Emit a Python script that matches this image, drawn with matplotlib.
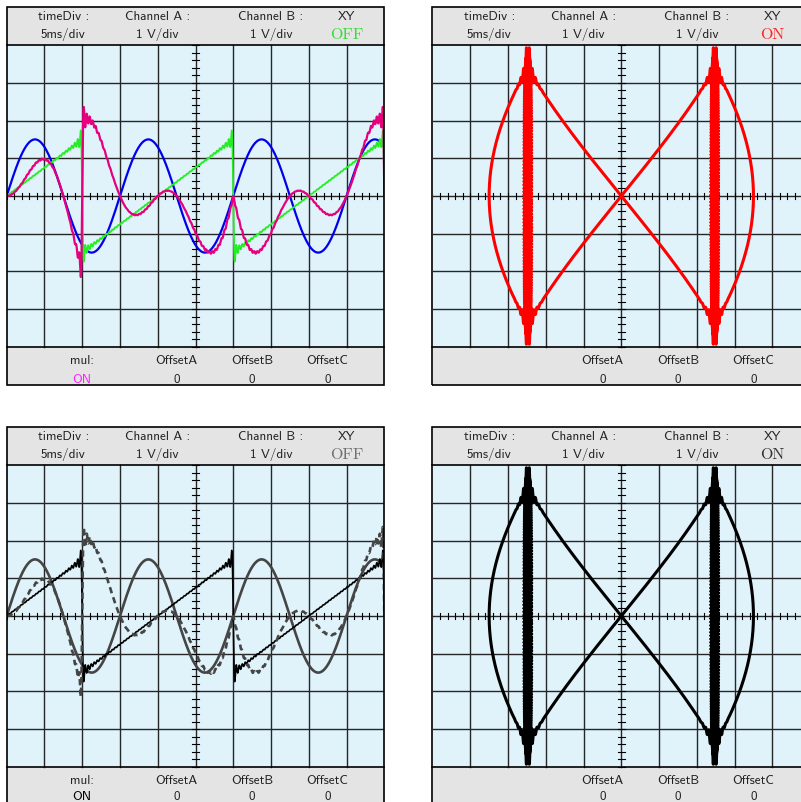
import numpy as np
import matplotlib
matplotlib.use("Agg")
import matplotlib.pyplot as plt
from matplotlib.patches import Rectangle

# ---- screen captions -------------------------------------------------------
header_titles = ["timeDiv :", "Channel A :", "Channel B :", "XY"]
header_values = ["5ms/div", "1 V/div", "1 V/div"]
header_x = [-3.5, -1.0, 2.0, 4.0]
footer_titles = ["OffsetA", "OffsetB", "OffsetC"]
footer_values = ["0", "0", "0"]
footer_x = [-0.5, 1.5, 3.5]
mul_x = -3.0

# ---- time-domain signals (time and voltage in screen divisions) -------------
t_start, t_stop = -5.0, 5.0
sine_amp = 1.5        # channel A peak
sine_period = 3.0     # divisions per cycle
sine_t0 = -5.0        # rising zero crossing
saw_amp = 1.5         # channel B plateau
saw_period = 4.0
saw_t0 = -5.0         # mid-ramp zero crossing
saw_harmonics = 50    # band-limited sawtooth (Gibbs ringing at the flyback)

# ---- XY-mode signals --------------------------------------------------------
xy_x_amp = 3.5        # horizontal deflection peak
xy_y_amp = 3.4        # vertical sawtooth plateau
xy_ratio = 4          # sawtooth cycles per sine cycle
xy_ring_span = 0.4    # ringing stays this close to the flyback (saw phase, rad)
xy_crosstalk = 0.10   # horizontal ringing during the flyback
xy_ring_rate = 30000.0


def band_limited_saw(phase, n):
    s = np.zeros_like(phase)
    for k in range(1, n + 1):
        s += (-1) ** (k + 1) * np.sin(k * phase) / k
    return s * 2.0 / np.pi


t = np.linspace(t_start, t_stop, 20001)
chan_a = sine_amp * np.sin(2 * np.pi * (t - sine_t0) / sine_period)
chan_b = saw_amp * band_limited_saw(2 * np.pi * (t - saw_t0) / saw_period, saw_harmonics)
chan_mul = chan_a * chan_b

theta = np.linspace(0, 2 * np.pi, 640001)
saw_phase = xy_ratio * theta
ideal = (np.mod(saw_phase + np.pi, 2 * np.pi) - np.pi) / np.pi
gap = np.pi * (1 - np.abs(ideal))
near = np.exp(-(gap / xy_ring_span) ** 2)
xy_y = xy_y_amp * (ideal + (band_limited_saw(saw_phase, saw_harmonics) - ideal) * near)
fall = np.clip(-np.gradient(xy_y, theta), 0, None)
fall = np.clip((fall / fall.max() - 0.3) / 0.7, 0, 1) ** 0.5
xy_x = xy_x_amp * np.sin(theta) + xy_crosstalk * fall * np.sin(xy_ring_rate * theta)

# ---- figure -----------------------------------------------------------------
W, H = 801, 803
fig = plt.figure(figsize=(W / 100, H / 100), dpi=100)

SANS = "cmss10"
SERIF = "cmr10"
TXT = "#222222"
PLOT_BG = "#e0f3fa"
BAR_BG = "#e4e4e4"
GRID = "#262626"

pw = 377.6
ph = 377.4
panels = {
    "tl": (6.7, 8.3),
    "tr": (432.5, 8.3),
    "bl": (6.7, 428.3),
    "br": (432.5, 428.3),
}


def make_panel(key):
    x0, y0 = panels[key]
    ax = fig.add_axes([x0 / W, 1 - (y0 + ph) / H, pw / W, ph / H])
    ax.set_xlim(-5, 5)
    ax.set_ylim(-5, 5)
    ax.axis("off")
    ax.add_patch(Rectangle((-5, 4), 10, 1, facecolor=BAR_BG, edgecolor="none", zorder=0))
    ax.add_patch(Rectangle((-5, -5), 10, 1, facecolor=BAR_BG, edgecolor="none", zorder=0))
    screen = Rectangle((-5, -4), 10, 8, facecolor=PLOT_BG, edgecolor="none", zorder=0)
    ax.add_patch(screen)
    for gx in range(-4, 5):
        ax.plot([gx, gx], [-4, 4], color=GRID, lw=1.0, zorder=1)
    for gy in range(-3, 4):
        ax.plot([-5, 5], [gy, gy], color=GRID, lw=1.0, zorder=1)
    # minor ticks on the centre axes
    for tx in np.arange(-5, 5.001, 0.2):
        ax.plot([tx, tx], [-0.09, 0.09], color="black", lw=0.8, zorder=1)
    for ty in np.arange(-4, 4.001, 0.2):
        ax.plot([-0.09, 0.09], [ty, ty], color="black", lw=0.8, zorder=1)
    # outline and bar separators
    ax.add_patch(Rectangle((-5, -5), 10, 10, facecolor="none", edgecolor="black",
                           lw=1.2, zorder=5, clip_on=False))
    for yy in (-4, 4):
        ax.plot([-5, 5], [yy, yy], color="black", lw=1.2, zorder=5, clip_on=False)
    return ax, screen


def captions(ax, xy_text, xy_color, mul_text=None, mul_color=None, low_row=-4.92):
    for x, s in zip(header_x, header_titles):
        ax.text(x, 4.69, s, ha="center", va="baseline", fontsize=9.5,
                family=SANS, color=TXT, zorder=6)
    for x, s in zip(header_x[:3], header_values):
        ax.text(x, 4.22, s, ha="center", va="baseline", fontsize=9.5,
                family=SANS, color=TXT, zorder=6)
    ax.text(header_x[3], 4.19, xy_text, ha="center", va="baseline", fontsize=11.5,
            family=SERIF, color=xy_color, zorder=6)
    for x, s in zip(footer_x, footer_titles):
        ax.text(x, -4.43, s, ha="center", va="baseline", fontsize=9.5,
                family=SANS, color=TXT, zorder=6)
    for x, s in zip(footer_x, footer_values):
        ax.text(x, low_row, s, ha="center", va="baseline", fontsize=9.5,
                family=SANS, color=TXT, zorder=6)
    if mul_text is not None:
        ax.text(mul_x, -4.43, "mul:", ha="center", va="baseline", fontsize=9.5,
                family=SANS, color=TXT, zorder=6)
        ax.text(mul_x, low_row, mul_text, ha="center", va="baseline", fontsize=9.5,
                family=SANS, color=mul_color, zorder=6)


def trace(ax, screen, x, y, **kw):
    ln, = ax.plot(x, y, zorder=3, solid_joinstyle="round", **kw)
    ln.set_clip_path(screen)
    return ln


# colour, time mode
ax, scr = make_panel("tl")
trace(ax, scr, t, chan_a, color="#0000ee", lw=1.6)
trace(ax, scr, t, chan_b, color="#22ee22", lw=1.3)
trace(ax, scr, t, chan_mul, color="#e6007e", lw=1.6)
captions(ax, "OFF", "#33dd33", "ON", "#ff22ff")

# colour, XY mode
ax, scr = make_panel("tr")
trace(ax, scr, xy_x, xy_y, color="#ff0000", lw=2.2)
captions(ax, "ON", "#ff2222")

# monochrome, time mode
ax, scr = make_panel("bl")
trace(ax, scr, t, chan_a, color="#454545", lw=1.9)
trace(ax, scr, t, chan_b, color="black", lw=1.2)
trace(ax, scr, t, chan_mul, color="#454545", lw=1.9, linestyle=(0, (2.4, 1.6)))
captions(ax, "OFF", "#707070", "ON", "black", low_row=-4.84)

# monochrome, XY mode
ax, scr = make_panel("br")
trace(ax, scr, xy_x, xy_y, color="black", lw=2.2)
captions(ax, "ON", "#333333", low_row=-4.84)

fig.savefig("out.png", dpi=100)
